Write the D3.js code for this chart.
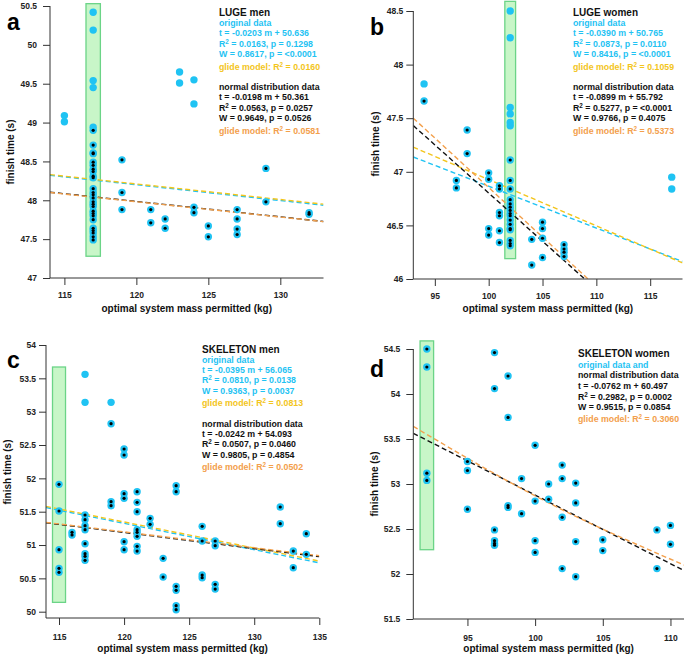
<!DOCTYPE html>
<html><head><meta charset="utf-8">
<script src="https://cdn.jsdelivr.net/npm/d3@7"></script>
<style>
body{margin:0;background:#fff}
svg{display:block;font-family:Arial,"Liberation Sans",sans-serif;font-weight:bold}
</style>
</head><body>
<svg id="chart" width="685" height="654"></svg>
<script>
// ---------------- DATA ----------------
// [optimal system mass permitted (kg), finish time (s)]
const lugeMenNormal = [
  [117,48.90],[117,48.71],[117,48.61],[117,48.60],[117,48.49],[117,48.45],[117,48.40],[117,48.37],[117,48.31],[117,48.29],
  [117,48.15],[117,48.10],[117,48.07],[117,48.03],[117,47.98],[117,47.95],[117,47.92],[117,47.86],[117,47.83],[117,47.80],
  [117,47.75],[117,47.64],[117,47.61],[117,47.58],[117,47.53],[117,47.49],
  [119,48.52],[119,48.10],[119,47.88],[121,47.88],[121,47.71],[122,47.76],[122,47.64],
  [124,47.91],[124,47.84],[125,47.67],[125,47.53],
  [127,47.88],[127,47.76],[127,47.63],[127,47.56],[129,48.41],[129,47.98],[132,47.84],[132,47.82]
];
const lugeMenOutliers = [[115,49.09],[115,49.01],[117,50.42],[117,50.19],[117,49.54],[117,49.45],[117,48.94],[123,49.65],[123,49.51],[124,49.55],[124,49.24]];

const lugeWomenNormal = [
  [94,47.66],[97,46.92],[97,46.85],[98,47.39],[98,47.17],
  [100,46.99],[100,46.93],[100,46.47],[100,46.41],
  [101,46.87],[101,46.84],[101,46.62],[101,46.59],[101,46.45],[101,46.34],
  [102,47.11],[102,46.92],[102,46.84],[102,46.74],[102,46.70],[102,46.67],[102,46.64],[102,46.61],[102,46.59],[102,46.55],
  [102,46.51],[102,46.47],[102,46.46],[102,46.36],[102,46.33],[102,46.31],
  [104,46.37],[104,46.13],[105,46.53],[105,46.47],[105,46.38],[105,46.20],
  [107,46.32],[107,46.28],[107,46.25],[107,46.21]
];
const lugeWomenOutliers = [[94,47.82],[102,48.50],[102,48.25],[102,47.60],[102,47.54],[102,47.46],[102,47.43],[117,46.95],[117,46.84]];

const skeletonMenNormal = [
  [115,51.91],[115,51.51],[115,50.93],[115,50.65],[115,50.59],[116,51.19],[116,51.15],
  [117,51.45],[117,51.38],[117,51.29],[117,51.23],[117,51.02],[117,50.87],[117,50.83],[117,50.77],
  [119,52.82],[119,51.65],[119,51.59],
  [120,52.44],[120,52.35],[120,51.77],[120,51.70],[120,51.05],[120,50.93],
  [121,51.80],[121,51.64],[121,51.50],[121,51.23],[121,51.19],[121,51.13],[121,50.98],[121,50.91],
  [122,51.40],[122,51.31],[123,50.80],[123,50.52],
  [124,51.89],[124,51.80],[124,50.38],[124,50.32],[124,50.09],[124,50.03],
  [126,51.28],[126,51.06],[126,50.55],[126,50.51],[127,51.06],[127,50.99],[127,50.41],[127,50.34],
  [132,51.57],[132,51.32],[133,50.91],[133,50.66],[134,51.17],[134,50.86]
];
const skeletonMenOutliers = [[117,53.56],[117,53.14],[119,53.14]];

const skeletonWomenNormal = [
  [92,54.50],[92,54.30],[92,53.12],[92,53.04],[95,53.25],[95,53.15],[95,52.72],
  [97,54.46],[97,54.06],[97,52.49],[97,52.37],[97,52.34],[97,52.32],
  [98,54.20],[98,53.74],[98,52.76],[98,52.74],[99,53.06],[99,52.67],
  [100,53.43],[100,52.81],[100,52.37],[100,52.24],[101,53.00],[101,52.83],
  [102,53.21],[102,53.06],[102,52.63],[102,52.06],[103,53.01],[103,52.79],[103,52.36],[103,51.97],
  [105,52.38],[105,52.26],[109,52.49],[109,52.06],[110,52.54],[110,52.33]
];
const skeletonWomenOutliers = [];

// regression fits: [slope, intercept]
const lugeMenOrigFit = [-0.0203, 50.636],   lugeMenNormFit = [-0.0198, 50.361];
const lugeWomenOrigFit = [-0.0390, 50.765], lugeWomenNormFit = [-0.0899, 55.792];
const skeletonMenOrigFit = [-0.0395, 56.065], skeletonMenNormFit = [-0.0242, 54.093];
const skeletonWomenNormFit = [-0.0762, 60.497];

// glide model curves: [mass, time]
const lugeMenGlideOrig = [[114,48.33],[133,47.95]];
const lugeMenGlideNorm = [[114,48.10],[133,47.725]];
const lugeWomenGlideOrig = [[93,47.23],[118,46.15]];
const lugeWomenGlideNorm = [[93,47.50],[118,45.19]];
const skeletonMenGlideOrig = [[114,51.58],[135,50.76]];
const skeletonMenGlideNorm = [[114,51.34],[135,50.84]];
const skeletonWomenGlideNorm = [[91,53.64],[101,52.79],[111,52.10]];

// highlighted mass band: [mass, low time, high time]
const lugeMenBand = [117, 47.28, 50.53];
const lugeWomenBand = [102, 46.19, 48.59];
const skeletonMenBand = [115, 50.14, 53.67];
const skeletonWomenBand = [92, 52.27, 54.59];

// axis ticks
const lugeMenXTicks = [115,120,125,130], lugeMenYTicks = [47,47.5,48,48.5,49,49.5,50,50.5];
const lugeWomenXTicks = [95,100,105,110,115], lugeWomenYTicks = [46,46.5,47,47.5,48,48.5];
const skeletonMenXTicks = [115,120,125,130,135], skeletonMenYTicks = [50,50.5,51,51.5,52,52.5,53,53.5,54];
const skeletonWomenXTicks = [95,100,105,110], skeletonWomenYTicks = [51.5,52,52.5,53,53.5,54,54.5];

// annotation texts
const lugeMenNotes = ["LUGE men","original data","t = -0.0203 m + 50.636","R² = 0.0163, p = 0.1298","W = 0.8617, p = <0.0001","glide model: R² = 0.0160",
  "normal distribution data","t = -0.0198 m + 50.361","R² = 0.0563, p = 0.0257","W = 0.9649, p = 0.0526","glide model: R² = 0.0581"];
const lugeWomenNotes = ["LUGE women","original data","t = -0.0390 m + 50.765","R² = 0.0873, p = 0.0110","W = 0.8416, p = <0.0001","glide model: R² = 0.1059",
  "normal distribution data","t = -0.0899 m + 55.792","R² = 0.5277, p = <0.0001","W = 0.9766, p = 0.4075","glide model: R² = 0.5373"];
const skeletonMenNotes = ["SKELETON men","original data","t = -0.0395 m + 56.065","R² = 0.0810, p = 0.0138","W = 0.9363, p = 0.0037","glide model: R² = 0.0813",
  "normal distribution data","t = -0.0242 m + 54.093","R² = 0.0507, p = 0.0460","W = 0.9805, p = 0.4854","glide model: R² = 0.0502"];
const skeletonWomenNotes = ["SKELETON women","original data and","normal distribution data","t = -0.0762 m + 60.497","R² = 0.2982, p = 0.0002","W = 0.9515, p = 0.0854","glide model: R² = 0.3060"];

const xLabel = "optimal system mass permitted (kg)";
const yLabel = "finish time (s)";

// ---------------- STYLE ----------------
const CYAN = "#1fc3f3", YELLOW = "#f3c51c", ORANGE = "#f3a04c", BLACK = "#111", AXIS = "#333";
const fourColors = [BLACK, CYAN, CYAN, CYAN, CYAN, YELLOW, BLACK, BLACK, BLACK, BLACK, ORANGE];
const fourOffsets = [0, 10, 20, 30.5, 41, 53.5, 74, 84, 94.5, 105, 117.5];
const womenSkColors = [BLACK, CYAN, BLACK, BLACK, BLACK, BLACK, ORANGE];
const womenSkOffsets = [0, 10.5, 21, 31.5, 42.5, 53, 64.5];

const svg = d3.select("#chart");

function drawPanel(p, idx) {
  const g = svg.append("g");
  const x = d3.scaleLinear().domain(p.xDomain).range([p.left, p.right]);
  const y = d3.scaleLinear().domain(p.yDomain).range([p.bottom, p.top]);

  // band
  g.append("rect")
    .attr("x", x(p.band[0] - 0.5)).attr("width", x(p.band[0] + 0.5) - x(p.band[0] - 0.5))
    .attr("y", y(p.band[2])).attr("height", y(p.band[1]) - y(p.band[2]))
    .attr("fill", "#c8f6c8").attr("stroke", "#6bd487").attr("stroke-width", 1.3);

  // clip
  const cid = "clip" + idx;
  svg.append("clipPath").attr("id", cid).append("rect")
    .attr("x", p.left).attr("y", p.top).attr("width", p.right - p.left).attr("height", p.axisY - p.top);
  const lg = g.append("g").attr("clip-path", `url(#${cid})`);
  const line = d3.line().x(d => x(d[0])).y(d => y(d[1]));
  const fitPts = f => p.xDomain.map(m => [m, f[0] * m + f[1]]);
  const dash = (pts, color, curve) => lg.append("path")
    .attr("d", line.curve(curve || d3.curveLinear)(pts))
    .attr("fill", "none").attr("stroke", color).attr("stroke-width", 1.4).attr("stroke-dasharray", "5,3");
  if (p.origFit) dash(fitPts(p.origFit), CYAN);
  if (p.glideOrig) dash(p.glideOrig, YELLOW);
  dash(fitPts(p.normFit), BLACK);
  dash(p.glideNorm, ORANGE, d3.curveMonotoneX);

  // axes
  const [ymin, ymax] = p.yDomain;
  const yMinor = d3.range(Math.round(ymin * 10), Math.round(ymax * 10) + 1).map(v => v / 10);
  const xMinor = d3.range(p.xDomain[0], p.xDomain[1] + 1);
  const fmt = d3.format(".1~f");
  const ya = g.append("g").attr("transform", `translate(${p.left},0)`);
  ya.call(d3.axisLeft(y).tickValues(yMinor).tickSize(4).tickFormat(""));
  ya.call(d3.axisLeft(y).tickValues(p.yTicks).tickSize(7).tickPadding(p.yPad).tickFormat(fmt));
  const xa = g.append("g").attr("transform", `translate(0,${p.axisY})`);
  xa.call(d3.axisBottom(x).tickValues(xMinor).tickSize(4).tickFormat(""));
  xa.call(d3.axisBottom(x).tickValues(p.xTicks).tickSize(7).tickPadding(p.xPad).tickFormat(d3.format("d")));
  g.selectAll(".domain").remove();
  g.append("line").attr("x1", p.left).attr("x2", p.left).attr("y1", p.top).attr("y2", p.axisY).attr("stroke", AXIS);
  g.append("line").attr("x1", p.left).attr("x2", p.right).attr("y1", p.axisY).attr("y2", p.axisY).attr("stroke", AXIS);
  g.selectAll(".tick line").attr("stroke", AXIS);
  g.selectAll(".tick text").attr("font-size", 8.5).attr("font-weight", "bold").attr("fill", "#222")
    .attr("font-family", "Arial, 'Liberation Sans', sans-serif");

  // points
  const all = p.normal.concat(p.outliers);
  g.append("g").selectAll("circle").data(all).join("circle")
    .attr("cx", d => x(d[0])).attr("cy", d => y(d[1])).attr("r", 3.7).attr("fill", CYAN);
  g.append("g").selectAll("circle").data(p.normal).join("circle")
    .attr("cx", d => x(d[0])).attr("cy", d => y(d[1])).attr("r", 1.6).attr("fill", "#000");

  // labels
  g.append("text").attr("x", (p.left + p.right) / 2).attr("y", p.xLabelY).attr("text-anchor", "middle")
    .attr("font-size", 10).attr("fill", "#111").text(xLabel);
  g.append("text").attr("transform", `translate(${p.yLabelX},${p.yLabelCY}) rotate(-90)`).attr("text-anchor", "middle")
    .attr("font-size", 10).attr("fill", "#111").text(yLabel);
  g.append("text").attr("x", p.letter[0]).attr("y", p.letter[1]).attr("font-size", 23).attr("fill", "#000").text(p.letterText);

  // notes
  const nt = g.append("g");
  p.notes.forEach((s, i) => {
    const t = nt.append("text").attr("x", p.noteX).attr("y", p.noteY + p.offsets[i])
      .attr("font-size", i === 0 ? 10 : 8.8).attr("fill", p.colors[i]);
    const parts = s.split("²");
    parts.forEach((part, j) => {
      if (j > 0) {
        t.append("tspan").attr("dy", -3).attr("font-size", 6.3).text("2");
        t.append("tspan").attr("dy", 3).text(part);
      } else t.append("tspan").text(part);
    });
  });
}

const panels = [
  {letterText: "a", letter: [7, 30], left: 50, right: 323.5, top: 6, bottom: 278, axisY: 278, xPad: 7, yPad: 6,
   xDomain: [114, 133], yDomain: [47, 50.5], xTicks: lugeMenXTicks, yTicks: lugeMenYTicks,
   normal: lugeMenNormal, outliers: lugeMenOutliers, band: lugeMenBand,
   origFit: lugeMenOrigFit, normFit: lugeMenNormFit, glideOrig: lugeMenGlideOrig, glideNorm: lugeMenGlideNorm,
   xLabelY: 311.5, yLabelX: 13.5, yLabelCY: 152, notes: lugeMenNotes, noteX: 219, noteY: 16, offsets: fourOffsets, colors: fourColors},
  {letterText: "b", letter: [370, 35], left: 413.3, right: 682.5, top: 11, bottom: 279, axisY: 279, xPad: 7, yPad: 3,
   xDomain: [93, 118], yDomain: [46, 48.5], xTicks: lugeWomenXTicks, yTicks: lugeWomenYTicks,
   normal: lugeWomenNormal, outliers: lugeWomenOutliers, band: lugeWomenBand,
   origFit: lugeWomenOrigFit, normFit: lugeWomenNormFit, glideOrig: lugeWomenGlideOrig, glideNorm: lugeWomenGlideNorm,
   xLabelY: 312, yLabelX: 378.5, yLabelCY: 144, notes: lugeWomenNotes, noteX: 573, noteY: 16, offsets: fourOffsets, colors: fourColors},
  {letterText: "c", letter: [7, 368], left: 46, right: 319.3, top: 345, bottom: 611.7, axisY: 618, xPad: 9, yPad: 3,
   xDomain: [114, 135], yDomain: [50, 54], xTicks: skeletonMenXTicks, yTicks: skeletonMenYTicks,
   normal: skeletonMenNormal, outliers: skeletonMenOutliers, band: skeletonMenBand,
   origFit: skeletonMenOrigFit, normFit: skeletonMenNormFit, glideOrig: skeletonMenGlideOrig, glideNorm: skeletonMenGlideNorm,
   xLabelY: 652, yLabelX: 10.5, yLabelCY: 472, notes: skeletonMenNotes, noteX: 202, noteY: 352.5, offsets: fourOffsets, colors: fourColors},
  {letterText: "d", letter: [370, 377], left: 413.3, right: 684, top: 349, bottom: 619, axisY: 619, xPad: 8.5, yPad: 6,
   xDomain: [91, 111], yDomain: [51.5, 54.5], xTicks: skeletonWomenXTicks, yTicks: skeletonWomenYTicks,
   normal: skeletonWomenNormal, outliers: skeletonWomenOutliers, band: skeletonWomenBand,
   origFit: null, normFit: skeletonWomenNormFit, glideOrig: null, glideNorm: skeletonWomenGlideNorm,
   xLabelY: 652, yLabelX: 377.5, yLabelCY: 484, notes: skeletonWomenNotes, noteX: 578, noteY: 357, offsets: womenSkOffsets, colors: womenSkColors}
];
panels.forEach(drawPanel);
</script>
</body></html>
